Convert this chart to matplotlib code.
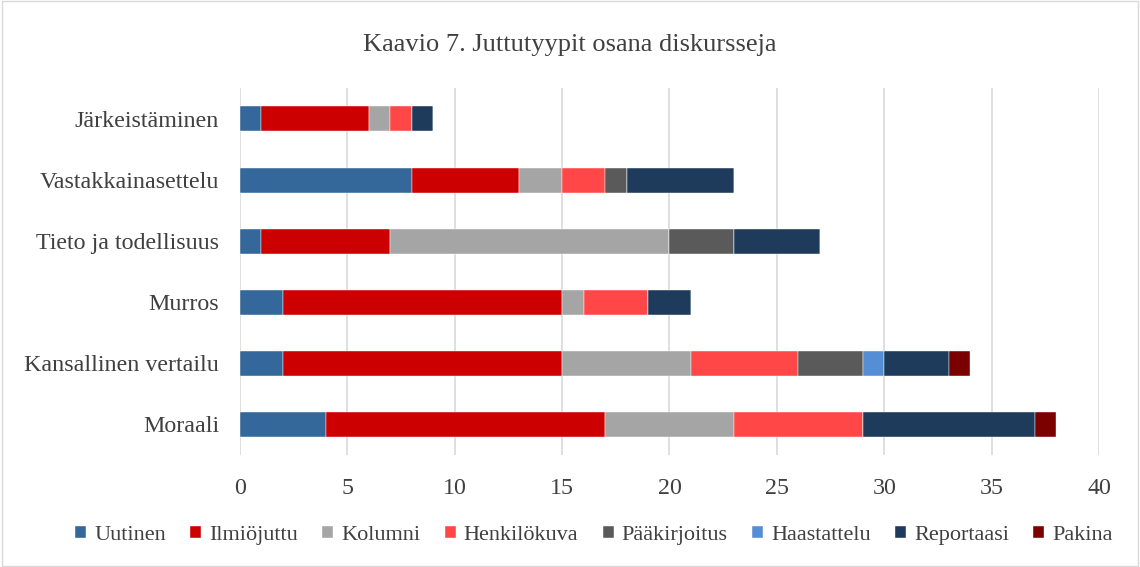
import matplotlib
matplotlib.use("Agg")
import matplotlib.pyplot as plt
from matplotlib.patches import Rectangle

# ---------------------------------------------------------------- data
categories = ["Moraali", "Kansallinen vertailu", "Murros",
              "Tieto ja todellisuus", "Vastakkainasettelu", "Järkeistäminen"]
series_names = ["Uutinen", "Ilmiöjuttu", "Kolumni", "Henkilökuva",
                "Pääkirjoitus", "Haastattelu", "Reportaasi", "Pakina"]
uutinen = [4, 2, 2, 1, 8, 1]
ilmiojuttu = [13, 13, 13, 6, 5, 5]
kolumni = [6, 6, 1, 13, 2, 1]
henkilokuva = [6, 5, 3, 0, 2, 1]
paakirjoitus = [0, 3, 0, 3, 1, 0]
haastattelu = [0, 1, 0, 0, 0, 0]
reportaasi = [8, 3, 2, 4, 5, 1]
pakina = [1, 1, 0, 0, 0, 0]
x_ticks = [0, 5, 10, 15, 20, 25, 30, 35, 40]

series = [uutinen, ilmiojuttu, kolumni, henkilokuva,
          paakirjoitus, haastattelu, reportaasi, pakina]
colors = ["#34679A", "#CC0000", "#A5A5A5", "#FF4747",
          "#5A5A5A", "#558ED5", "#1F3B5B", "#7B0000"]

plt.rcParams["font.family"] = ["Liberation Serif", "DejaVu Serif"]

fig = plt.figure(figsize=(11.4, 5.67), dpi=100)
fig.patches.append(Rectangle((0.002, 0.002), 0.996, 0.996, transform=fig.transFigure,
                             fill=False, edgecolor="#D9D9D9", linewidth=1))
ax = fig.add_axes([0.2105, 0.198, 0.7535, 0.646])

y = list(range(len(categories)))
left = [0] * len(categories)
for name, vals, col in zip(series_names, series, colors):
    ax.barh(y, vals, left=left, height=0.41, color=col, label=name,
            edgecolor="white", linewidth=0.3, zorder=3)
    left = [l + v for l, v in zip(left, vals)]

ax.set_xlim(0, 40)
ax.set_ylim(-0.5, len(categories) - 0.5)
ax.set_xticks(x_ticks)
ax.set_yticks(y)
ax.set_yticklabels(categories)
ax.tick_params(axis="both", length=0, labelsize=17.3, labelcolor="#404040")
ax.tick_params(axis="x", pad=17)
ax.tick_params(axis="y", pad=15)
ax.grid(axis="x", color="#D9D9D9", linewidth=1.2, zorder=0)
for s in ax.spines.values():
    s.set_visible(False)

fig.text(0.5, 0.92, "Kaavio 7. Juttutyypit osana diskursseja", ha="center",
         va="center", fontsize=19, color="#404040")

fig.legend(loc="center", bbox_to_anchor=(0.521, 0.056), ncol=8, frameon=False,
           fontsize=16, handlelength=0.5, handleheight=0.5, handletextpad=0.35,
           columnspacing=1.1, labelcolor="#404040")

fig.savefig("out.png", dpi=100)
